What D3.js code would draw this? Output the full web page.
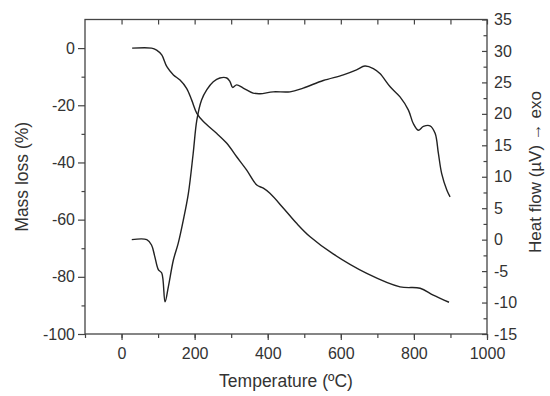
<!DOCTYPE html>
<html>
<head>
<meta charset="utf-8">
<script src="https://cdn.jsdelivr.net/npm/d3@7"></script>
<style>
    body { margin: 0; background: #fff; }
    svg text { font-family: "Liberation Sans", Arial, sans-serif; fill: #333; }
</style>
</head>
<body>
<svg id="chart" width="550" height="396"></svg>
<script>

// TG curve: temperature (ºC) and mass loss (%), left axis
let tgTemp = [29, 82, 96, 110, 124, 142, 160, 178, 192, 206, 224, 260, 288, 315, 342, 370, 388, 406, 443, 479, 516, 579, 671, 762, 817, 853, 896];
let tgMass = [0, 0, -0.7, -2.4, -6.5, -9.4, -11.2, -14.1, -18.2, -22.8, -25.7, -29.8, -33.3, -38, -42.6, -47.9, -49, -50.8, -56, -61.3, -66, -72, -78.8, -83.5, -84, -86.4, -88.9];

// DTA curve: temperature (ºC) and heat flow (µV), right axis
let dtaTemp = [28, 69, 82, 91, 101, 110, 119, 128, 142, 155, 169, 183, 196, 206, 219, 233, 251, 269, 288, 297, 304, 315, 333, 360, 379, 415, 461, 497, 552, 607, 643, 666, 689, 707, 735, 762, 785, 798, 812, 826, 844, 858, 867, 876, 890, 899];
let dtaHeat = [0, 0, -0.85, -2.7, -4.8, -5.3, -9.9, -7.5, -3.2, -0.6, 3.1, 7.4, 13.7, 19, 22.2, 23.8, 25.1, 25.7, 25.7, 25.1, 24.2, 24.6, 24.1, 23.3, 23.2, 23.5, 23.5, 24.1, 25.3, 26.2, 27, 27.6, 27.2, 26.4, 24.3, 22.7, 20.6, 18.5, 17.4, 18, 18.1, 16.9, 13.7, 10.5, 7.9, 6.8];

// ticks
let xTicks = [0, 200, 400, 600, 800, 1000];
let leftTicks = [0, -20, -40, -60, -80, -100];
let rightTicks = [35, 30, 25, 20, 15, 10, 5, 0, -5, -10, -15];

let svg = d3.select("#chart");
let pLeft = 85, pRight = 487, pTop = 19.5, pBottom = 334;

let x = d3.scaleLinear().domain([-100, 1000]).range([pLeft, pRight]);
let yL = d3.scaleLinear().domain([-100, 10]).range([pBottom, pTop]);
let yR = d3.scaleLinear().domain([-15, 35]).range([pBottom, pTop]);

let axisColor = "#444";
let plain = d => String(d);   // keep the hyphen minus like the original

// minor ticks first, then major ones with labels
svg.append("g")
    .attr("transform", "translate(0," + pBottom + ")")
    .call(d3.axisBottom(x).tickValues(d3.range(-100, 1001, 100)).tickSize(4).tickFormat(""));
svg.append("g")
    .attr("transform", "translate(0," + pBottom + ")")
    .call(d3.axisBottom(x).tickValues(xTicks).tickSize(6).tickPadding(8).tickFormat(plain));

svg.append("g")
    .attr("transform", "translate(0," + pTop + ")")
    .call(d3.axisBottom(x).tickValues(d3.range(0, 1001, 100)).tickSize(5).tickFormat(""));

svg.append("g")
    .attr("transform", "translate(" + pLeft + ",0)")
    .call(d3.axisLeft(yL).tickValues(d3.range(-90, 10, 20)).tickSize(3.5).tickFormat(""));
svg.append("g")
    .attr("transform", "translate(" + pLeft + ",0)")
    .call(d3.axisLeft(yL).tickValues(leftTicks).tickSize(7).tickPadding(3).tickFormat(plain));

svg.append("g")
    .attr("transform", "translate(" + pRight + ",0)")
    .call(d3.axisLeft(yR).tickValues(d3.range(-12.5, 35, 5)).tickSize(3.5).tickFormat(""));
let rAxis = svg.append("g")
    .attr("transform", "translate(" + pRight + ",0)")
    .call(d3.axisLeft(yR).tickValues(rightTicks).tickSize(5).tickFormat(plain));
rAxis.selectAll("text")
    .attr("x", 7)
    .attr("text-anchor", "start");

svg.selectAll(".domain").remove();
svg.selectAll(".tick line").attr("stroke", axisColor).attr("stroke-width", 1.2);
svg.selectAll(".tick text").attr("font-size", 16).attr("fill", "#333");

// frame
svg.append("rect")
    .attr("x", pLeft).attr("y", pTop)
    .attr("width", pRight - pLeft).attr("height", pBottom - pTop)
    .attr("fill", "none")
    .attr("stroke", axisColor)
    .attr("stroke-width", 1.3);

// curves
let tgLine = d3.line()
    .x(i => x(tgTemp[i]))
    .y(i => yL(tgMass[i]))
    .curve(d3.curveCatmullRom.alpha(0.5));

let dtaLine = d3.line()
    .x(i => x(dtaTemp[i]))
    .y(i => yR(dtaHeat[i]))
    .curve(d3.curveCatmullRom.alpha(0.5));

svg.append("path")
    .attr("d", tgLine(d3.range(tgTemp.length)))
    .attr("fill", "none")
    .attr("stroke", "#222")
    .attr("stroke-width", 1.4);

svg.append("path")
    .attr("d", dtaLine(d3.range(dtaTemp.length)))
    .attr("fill", "none")
    .attr("stroke", "#222")
    .attr("stroke-width", 1.4);

// titles
svg.append("text")
    .attr("x", (pLeft + pRight) / 2)
    .attr("y", 387)
    .attr("text-anchor", "middle")
    .attr("font-size", 17.5)
    .text("Temperature (ºC)");

svg.append("text")
    .attr("transform", "translate(28," + ((pTop + pBottom) / 2) + ") rotate(-90)")
    .attr("text-anchor", "middle")
    .attr("font-size", 17.5)
    .text("Mass loss (%)");

svg.append("text")
    .attr("transform", "translate(541,172) rotate(-90)")
    .attr("text-anchor", "middle")
    .attr("font-size", 17)
    .text("Heat flow (µV)  →  exo");

</script>
</body>
</html>
